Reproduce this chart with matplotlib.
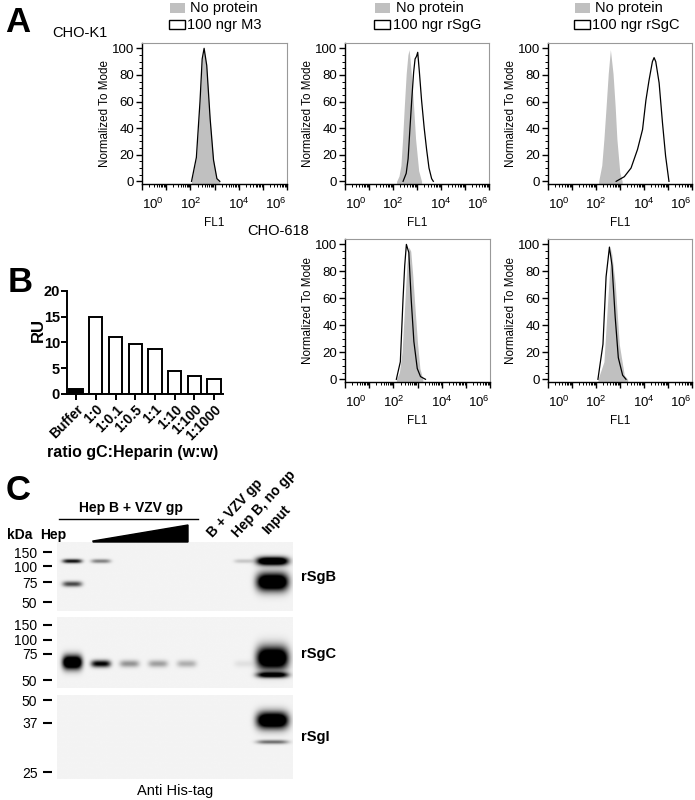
import numpy as np
import matplotlib
matplotlib.use("Agg")
import matplotlib.pyplot as plt
from matplotlib.patches import Rectangle, Polygon
from matplotlib.lines import Line2D
from matplotlib.ticker import FixedLocator, FuncFormatter, MultipleLocator, NullFormatter

plt.rcParams['font.family'] = ['Liberation Sans', 'DejaVu Sans']

# ---------------- Panel A data (x = log10 FL1, y = % of mode) ----------------
k1_ctrl_x = [2.05, 2.26, 2.40, 2.49, 2.56, 2.67, 2.81, 2.95, 3.09, 3.22]
k1_ctrl_y = [0, 19, 61, 91, 99, 86, 47, 17, 2, 0]
k1_m3_x = [2.05, 2.25, 2.40, 2.49, 2.57, 2.68, 2.82, 2.96, 3.10, 3.22]
k1_m3_y = [0, 18, 60, 92, 100, 87, 47, 16, 2, 0]

k1g_ctrl_x = [2.15, 2.25, 2.33, 2.40, 2.47, 2.55, 2.62, 2.67, 2.71, 2.76, 2.86, 2.94, 3.07, 3.19]
k1g_ctrl_y = [0, 4, 12, 32, 56, 81, 95, 99, 92, 81, 56, 32, 8, 0]
k1_gG_x = [2.42, 2.55, 2.63, 2.70, 2.78, 2.86, 2.92, 2.98, 3.03, 3.10, 3.19, 3.30, 3.40, 3.50, 3.61, 3.68]
k1_gG_y = [0, 6, 17, 38, 61, 82, 92, 94, 97, 82, 61, 40, 24, 10, 2, 0]

k1c_ctrl_x = [2.11, 2.24, 2.33, 2.42, 2.51, 2.60, 2.71, 2.80, 2.87, 2.99, 3.09]
k1c_ctrl_y = [0, 12, 32, 56, 81, 99, 81, 56, 32, 7, 0]
k1_gC_x = [2.84, 3.18, 3.46, 3.73, 3.94, 4.08, 4.21, 4.35, 4.42, 4.49, 4.63, 4.77, 4.90, 5.04]
k1_gC_y = [0, 3.5, 10, 24, 39, 61, 76, 90, 93, 90, 74, 44, 19, 0]

c618g_ctrl_x = [2.125, 2.25, 2.36, 2.47, 2.56, 2.64, 2.72, 2.80, 2.90, 3.00, 3.10, 3.22]
c618g_ctrl_y = [0, 5, 20, 55, 85, 98, 95, 78, 52, 27, 8, 0]
c618_gG_x = [2.125, 2.29, 2.40, 2.47, 2.54, 2.64, 2.74, 2.85, 2.99, 3.125, 3.33]
c618_gG_y = [0, 13, 59, 84, 100, 94, 59, 28, 8, 2, 0]

c618c_ctrl_x = [2.08, 2.33, 2.49, 2.63, 2.80, 2.97, 3.18, 3.32]
c618c_ctrl_y = [0, 13, 59, 97, 71, 26, 3, 0]
c618_gC_x = [2.08, 2.29, 2.42, 2.56, 2.67, 2.80, 2.93, 3.11, 3.25]
c618_gC_y = [0, 26, 76, 98, 84, 46, 16, 3, 0]

legend_ctrl = "No protein"
legend_prot = ["100 ngr M3", "100 ngr rSgG", "100 ngr rSgC"]

# ---------------- Panel B data ----------------
ratio_labels = ["Buffer", "1:0", "1:0.1", "1:0.5", "1:1", "1:10", "1:100", "1:1000"]
ru_values = [1.0, 15.0, 11.0, 9.8, 8.8, 4.5, 3.4, 2.9]

# ---------------- Panel C data (western blots) ----------------
lane_labels_top = ["B + VZV gp", "Hep B, no gp", "Input"]
blotB_ladder_kda = ["150", "100", "75", "50"]
blotB_ladder_mob = [0.145, 0.35, 0.58, 0.87]
blotC_ladder_kda = ["150", "100", "75", "50"]
blotC_ladder_mob = [0.11, 0.32, 0.52, 0.89]
blotI_ladder_kda = ["50", "37", "25"]
blotI_ladder_mob = [0.06, 0.33, 0.92]

# bands: lane index, mobility, strength (0-1), spread
blotB_lane = [0, 0, 1, 6, 7, 7]
blotB_mob = [0.275, 0.61, 0.275, 0.275, 0.275, 0.58]
blotB_str = [0.6, 0.45, 0.3, 0.12, 1.0, 1.0]
blotB_spr = [0.03, 0.04, 0.03, 0.03, 0.06, 0.13]

blotC_lane = [0, 1, 2, 3, 4, 6, 7, 7]
blotC_mob = [0.64, 0.66, 0.66, 0.66, 0.66, 0.66, 0.58, 0.82]
blotC_str = [1.0, 0.65, 0.25, 0.22, 0.18, 0.05, 1.0, 0.7]
blotC_spr = [0.1, 0.05, 0.05, 0.05, 0.05, 0.05, 0.16, 0.04]

blotI_lane = [7, 7]
blotI_mob = [0.30, 0.56]
blotI_str = [1.0, 0.35]
blotI_spr = [0.1, 0.025]

blot_names = ["rSgB", "rSgC", "rSgI"]

# ---------------- figure helpers ----------------
W, H = 695, 800
fig = plt.figure(figsize=(W / 100, H / 100), dpi=100)


def rect(l, t, r, b):
    return [l / W, 1 - b / H, (r - l) / W, (b - t) / H]


def ftxt(x, y, s, **kw):
    return fig.text(x / W, 1 - y / H, s, **kw)


def frect(x0, y0, x1, y1, **kw):
    fig.add_artist(Rectangle((x0 / W, 1 - y1 / H), (x1 - x0) / W, (y1 - y0) / H,
                             transform=fig.transFigure, **kw))


GRAY = '#c0c0c0'


def hist_axes(box, cx, cy, px, py):
    ax = fig.add_axes(rect(*box))
    ymin = -2
    cxl = 10 ** np.asarray(cx)
    ax.fill_between(cxl, cy, ymin, color=GRAY, lw=0)
    ax.plot(10 ** np.asarray(px), py, color='black', lw=0.9)
    ax.set_xscale('log')
    ax.set_xlim(1, 1e6)
    ax.set_ylim(ymin, 104)
    ax.xaxis.set_major_locator(FixedLocator([10.0 ** k for k in range(7)]))
    ax.xaxis.set_major_formatter(FuncFormatter(
        lambda v, p: (r'$\mathregular{10^{%d}}$' % round(np.log10(v))) if round(np.log10(v)) % 2 == 0 else ''))
    ax.xaxis.set_minor_locator(FixedLocator([m * 10.0 ** k for k in range(6) for m in range(2, 10)]))
    ax.xaxis.set_minor_formatter(NullFormatter())
    ax.set_yticks([0, 20, 40, 60, 80, 100])
    ax.yaxis.set_minor_locator(MultipleLocator(5))
    ax.tick_params(which='major', length=4, width=1.0, labelsize=9.5, pad=1.5)
    ax.tick_params(axis='x', which='major', pad=5)
    ax.tick_params(which='minor', length=2, width=0.7)
    ticks = ax.xaxis.get_major_ticks()
    ticks[0].label1.set_horizontalalignment('left')
    ticks[-1].label1.set_horizontalalignment('right')
    for s in ['top', 'right']:
        ax.spines[s].set_color('#999999')
        ax.spines[s].set_linewidth(0.8)
    for s in ['left', 'bottom']:
        ax.spines[s].set_linewidth(1.0)
    ax.set_ylabel('Normalized To Mode', fontsize=8.4, labelpad=1)
    ax.set_xlabel('FL1', fontsize=8.5, labelpad=4)
    return ax


# ---------------- Panel A ----------------
hist_axes((142, 43, 287, 184), k1_ctrl_x, k1_ctrl_y, k1_m3_x, k1_m3_y)
hist_axes((345, 43, 489, 184), k1g_ctrl_x, k1g_ctrl_y, k1_gG_x, k1_gG_y)
hist_axes((548, 43, 692, 184), k1c_ctrl_x, k1c_ctrl_y, k1_gC_x, k1_gC_y)
hist_axes((345, 239, 490, 382), c618g_ctrl_x, c618g_ctrl_y, c618_gG_x, c618_gG_y)
hist_axes((548, 239, 692, 382), c618c_ctrl_x, c618c_ctrl_y, c618_gC_x, c618_gC_y)

ftxt(5, 22, 'A', fontsize=25, fontweight='bold', va='center', ha='left')
ftxt(52, 33, 'CHO-K1', fontsize=10.5, va='center', ha='left')
ftxt(247, 231, 'CHO-618', fontsize=10.5, va='center', ha='left')

for gx, tx, lbl in [(170, 190, legend_prot[0]), (375, 396, legend_prot[1]), (575, 595, legend_prot[2])]:
    frect(gx, 3, gx + 15, 13, facecolor=GRAY, edgecolor='none')
    ftxt(tx, 8, legend_ctrl, fontsize=10.5, va='center', ha='left')
    frect(gx - 1, 20, gx + 15, 29, facecolor='white', edgecolor='black', lw=1.0)
    ftxt(tx - 3, 24.5, lbl, fontsize=10.5, va='center', ha='left')

# ---------------- Panel B ----------------
axb = fig.add_axes(rect(67, 291, 223, 394))
xpos = np.arange(len(ru_values))
colors = ['black'] + ['white'] * (len(ru_values) - 1)
axb.bar(xpos, ru_values, width=0.68, color=colors, edgecolor='black', linewidth=1.4)
axb.set_xlim(-0.46, 7.45)
axb.set_ylim(0, 20)
axb.set_yticks([0, 5, 10, 15, 20])
axb.set_xticks(xpos)
axb.set_xticklabels(ratio_labels, rotation=45, ha='right', rotation_mode='anchor',
                    fontsize=10, fontweight='bold')
for lab in axb.get_yticklabels():
    lab.set_fontweight('bold')
axb.tick_params(axis='y', labelsize=10.5, length=4, width=1.4, pad=1)
axb.tick_params(axis='x', length=4, width=1.4, pad=2)
for s in ['top', 'right']:
    axb.spines[s].set_visible(False)
for s in ['left', 'bottom']:
    axb.spines[s].set_linewidth(1.4)
ftxt(8, 283, 'B', fontsize=25, fontweight='bold', va='center', ha='left')
ftxt(38, 330, 'RU', fontsize=12, fontweight='bold', rotation=90, va='center', ha='center')
ftxt(133, 453, 'ratio gC:Heparin (w:w)', fontsize=11.5, fontweight='bold', va='center', ha='center')

# ---------------- Panel C ----------------
XL = (-0.52, 7.7)


def blot_axes(box, lk, lm, bl, bm, bs, bsp, name, name_y):
    ax = fig.add_axes(rect(*box))
    nx, ny = 260, 100
    xs = np.linspace(XL[0], XL[1], nx)
    ys = np.linspace(0, 1, ny)
    X, Y = np.meshgrid(xs, ys)
    dark = np.zeros_like(X)
    for l, m, s, sp in zip(bl, bm, bs, bsp):
        hw = 0.55 if l == 7 else 0.34
        dark += s * np.exp(-np.abs((X - l) / hw) ** 4) * np.exp(-((Y - m) / sp) ** 2) * 1.6
    img = 0.955 * (1 - np.clip(dark, 0, 1))
    ax.imshow(img, cmap='gray', vmin=0, vmax=1, extent=(XL[0], XL[1], 1, 0),
              aspect='auto', interpolation='bilinear')
    ax.set_xlim(*XL)
    ax.set_ylim(1, 0)
    ax.set_xticks([])
    ax.set_yticks(lm)
    ax.set_yticklabels(lk, fontsize=9.5, fontweight='bold')
    for s in ['top', 'right', 'bottom']:
        ax.spines[s].set_visible(False)
    ax.spines['left'].set_position(('outward', 3.6))
    ax.spines['left'].set_visible(False)
    ax.tick_params(axis='y', length=6.5, width=1.5, pad=4)
    ftxt(box[2] + 8, name_y, name, fontsize=10.5, fontweight='bold', va='center', ha='left')
    return ax


blot_axes((57, 542, 293, 611), blotB_ladder_kda, blotB_ladder_mob,
          blotB_lane, blotB_mob, blotB_str, blotB_spr, blot_names[0], 577)
blot_axes((57, 617, 293, 688), blotC_ladder_kda, blotC_ladder_mob,
          blotC_lane, blotC_mob, blotC_str, blotC_spr, blot_names[1], 654)
blot_axes((57, 695, 293, 779), blotI_ladder_kda, blotI_ladder_mob,
          blotI_lane, blotI_mob, blotI_str, blotI_spr, blot_names[2], 737)

ftxt(6, 491, 'C', fontsize=25, fontweight='bold', va='center', ha='left')
ftxt(131, 508, 'Hep B + VZV gp', fontsize=10, fontweight='bold', va='center', ha='center')
fig.add_artist(Line2D([59 / W, 198 / W], [1 - 519 / H, 1 - 519 / H], color='black', lw=1.0,
                      transform=fig.transFigure))
fig.add_artist(Polygon([(93 / W, 1 - 541 / H), (188 / W, 1 - 525 / H), (188 / W, 1 - 542 / H),
                        (93 / W, 1 - 542 / H)], closed=True, facecolor='black', edgecolor='black',
                       transform=fig.transFigure))
ftxt(7, 535, 'kDa', fontsize=10, fontweight='bold', va='center', ha='left')
ftxt(40, 535, 'Hep', fontsize=10, fontweight='bold', va='center', ha='left')
for (x0, y0), lbl in zip([(213, 538), (238, 538), (268, 535)], lane_labels_top):
    ftxt(x0, y0, lbl, fontsize=10, fontweight='bold', rotation=47, rotation_mode='anchor',
         va='baseline', ha='left')
ftxt(175, 791, 'Anti His-tag', fontsize=10.5, va='center', ha='center')

fig.savefig('out.png', dpi=100)
